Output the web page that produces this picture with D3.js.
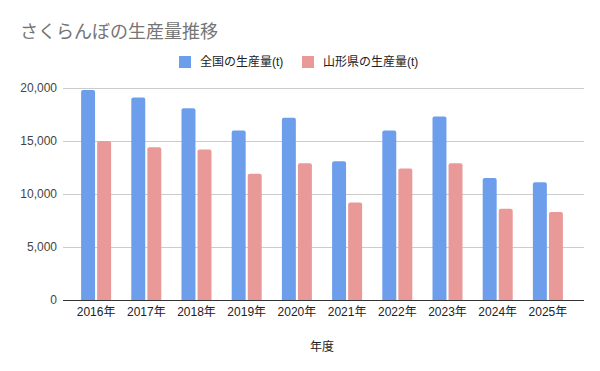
<!DOCTYPE html>
<html><head><meta charset="utf-8">
<script src="https://cdn.jsdelivr.net/npm/d3@7"></script>
<style>
body{margin:0;background:#fff;}
svg{font-family:"Liberation Sans",Arial,"Noto Sans CJK JP",sans-serif;}
</style></head>
<body><svg id="c" width="600" height="371"></svg>
<script>
const years = ["2016年","2017年","2018年","2019年","2020年","2021年","2022年","2023年","2024年","2025年"];
const seriesNames = ["全国の生産量(t)","山形県の生産量(t)"];
const national = [19800,19100,18100,16000,17200,13100,16000,17300,11500,11100];
const yamagata = [15000,14400,14200,11900,12900,9200,12400,12900,8600,8300];
const yTicks = [0,5000,10000,15000,20000];
const colors = ["#6d9eeb","#ea9999"];

(function(){
const FONT = "'Liberation Sans',Arial,'Noto Sans CJK JP',sans-serif";
const svg = d3.select("#c");
svg.append("rect").attr("width",600).attr("height",371).attr("fill","#fff");

const pLeft=63, pRight=584, pTop=88, pBottom=300;
const y = d3.scaleLinear().domain([0,20000]).range([pBottom,pTop]);
const x = d3.scaleBand().domain(years).range([71,573]).padding(0);
const groupW = 30;
const xs = d3.scaleBand().domain(seriesNames).range([0,groupW]).paddingInner(0.13);

// title
svg.append("text").attr("x",20).attr("y",38).attr("font-size",18).attr("fill","#757575")
  .attr("font-family","'Noto Sans CJK JP',sans-serif").text("さくらんぼの生産量推移");

// gridlines
svg.append("g").selectAll("line").data(yTicks.filter(d=>d>0)).join("line")
  .attr("x1",pLeft).attr("x2",pRight).attr("y1",d=>y(d)).attr("y2",d=>y(d))
  .attr("stroke","#cccccc").attr("stroke-width",1).attr("shape-rendering","crispEdges");

// y axis labels
const yAxis = d3.axisLeft(y).tickValues(yTicks).tickSize(0).tickPadding(6).tickFormat(d3.format(","));
const ya = svg.append("g").attr("transform",`translate(${pLeft},0)`).call(yAxis);
ya.select(".domain").remove();
ya.selectAll("text").attr("font-size",12).attr("fill","#444").attr("font-family",FONT);

// bars
function barPath(x0,w,yT,yB,r){
  r=Math.min(r,w/2,yB-yT);
  return `M${x0},${yB}V${yT+r}Q${x0},${yT} ${x0+r},${yT}H${x0+w-r}Q${x0+w},${yT} ${x0+w},${yT+r}V${yB}Z`;
}
const data = [national, yamagata];
data.forEach((vals,si)=>{
  svg.append("g").selectAll("path").data(vals).join("path")
    .attr("d",(d,i)=>{
      const gx = x(years[i]) + (x.bandwidth()-groupW)/2 + xs(seriesNames[si]);
      return barPath(gx, xs.bandwidth(), y(d), y(0), 2);
    })
    .attr("fill",colors[si]);
});

// x axis
const xAxis = d3.axisBottom(x).tickSize(0).tickPadding(7);
const xa = svg.append("g").attr("transform",`translate(0,${pBottom})`).call(xAxis);
xa.select(".domain").remove();
xa.selectAll("text").attr("font-size",12).attr("fill","#222").attr("font-family",FONT);
svg.append("line").attr("x1",pLeft).attr("x2",pRight).attr("y1",pBottom).attr("y2",pBottom)
  .attr("stroke","#333").attr("stroke-width",1).attr("shape-rendering","crispEdges");

// x axis title
svg.append("text").attr("x",322).attr("y",351).attr("text-anchor","middle").attr("font-size",12).attr("fill","#222")
  .attr("font-family",FONT).text("年度");

// legend
const legend = [{x:179,tx:200},{x:302,tx:323}];
seriesNames.forEach((n,i)=>{
  svg.append("rect").attr("x",legend[i].x).attr("y",56).attr("width",12).attr("height",12).attr("fill",colors[i]);
  svg.append("text").attr("x",legend[i].tx).attr("y",66).attr("font-size",12).attr("fill","#222")
    .attr("font-family",FONT).text(n);
});
})();
</script></body></html>
